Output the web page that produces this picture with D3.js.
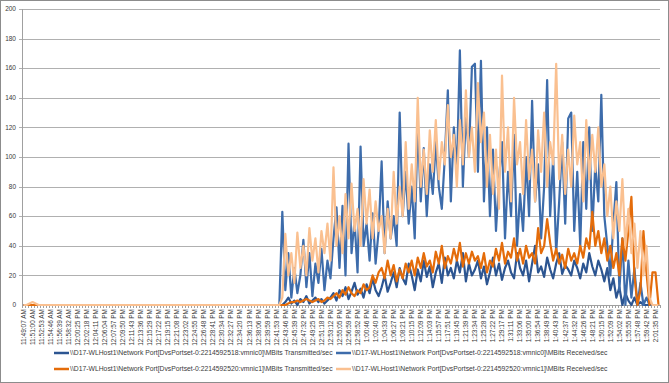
<!DOCTYPE html>
<html>
<head>
<meta charset="utf-8">
<script src="https://cdn.jsdelivr.net/npm/d3@7"></script>
<style>
  body { margin: 0; background: #fff; }
  text { font-family: "Liberation Sans", Arial, sans-serif; fill: #3a3a3a; }
</style>
</head>
<body>
<svg id="chart" width="669" height="383"></svg>
<script>
// tick labels (one label every 3 samples)
const timeLabels = [
  "11:49:07 AM","11:51:00 AM","11:52:53 AM","11:54:46 AM","11:56:39 AM","11:58:32 AM",
  "12:00:25 PM","12:02:18 PM","12:04:11 PM","12:06:04 PM","12:07:57 PM","12:09:50 PM",
  "12:11:43 PM","12:13:36 PM","12:15:29 PM","12:17:22 PM","12:19:15 PM","12:21:08 PM",
  "12:23:02 PM","12:24:55 PM","12:26:48 PM","12:28:41 PM","12:30:34 PM","12:32:27 PM",
  "12:34:20 PM","12:36:13 PM","12:38:06 PM","12:39:59 PM","12:41:53 PM","12:43:46 PM",
  "12:45:39 PM","12:47:32 PM","12:49:25 PM","12:51:18 PM","12:53:12 PM","12:55:05 PM",
  "12:56:59 PM","12:58:52 PM","1:00:46 PM","1:02:40 PM","1:04:33 PM","1:06:27 PM",
  "1:08:21 PM","1:10:15 PM","1:12:09 PM","1:14:03 PM","1:15:57 PM","1:17:51 PM",
  "1:19:45 PM","1:21:39 PM","1:23:34 PM","1:25:28 PM","1:27:22 PM","1:29:17 PM",
  "1:31:11 PM","1:33:06 PM","1:35:00 PM","1:36:54 PM","1:38:49 PM","1:40:43 PM",
  "1:42:37 PM","1:44:32 PM","1:46:26 PM","1:48:21 PM","1:50:15 PM","1:52:09 PM",
  "1:54:02 PM","1:55:55 PM","1:57:48 PM","1:59:42 PM","2:01:35 PM"
];
const samplesPerLabel = 3;
const yTicks = [0, 20, 40, 60, 80, 100, 120, 140, 160, 180, 200];

const seriesNames = [
  "\\\\D17-WLHost1\\Network Port[DvsPortset-0:2214592518:vmnic0]\\MBits Transmitted/sec",
  "\\\\D17-WLHost1\\Network Port[DvsPortset-0:2214592518:vmnic0]\\MBits Received/sec",
  "\\\\D17-WLHost1\\Network Port[DvsPortset-0:2214592520:vmnic1]\\MBits Transmitted/sec",
  "\\\\D17-WLHost1\\Network Port[DvsPortset-0:2214592520:vmnic1]\\MBits Received/sec"
];

const txVmnic0 = [
  0,0,0,0,0,0,0,0,0,0,0,0,0,0,0,0,0,0,0,0,0,0,0,0,0,0,0,0,0,0,0,0,0,0,0,0,0,0,0,0,0,0,0,
  0,0,0,0,0,0,0,0,0,0,0,0,0,0,0,0,0,0,0,0,0,0,0,0,0,0,0,0,0,0,0,0,0,0,0,0,0,0,0,0,0,0,0,
  0,2,5,1,3,0,4,2,6,1,3,5,2,4,1,3,
  5,8,3,10,6,12,4,9,15,7,11,5,14,8,18,10,6,12,20,9,
  15,22,12,25,18,14,28,20,10,24,16,30,19,26,12,22,28,15,32,20,
  25,18,30,22,35,16,28,20,24,30,18,26,14,22,32,20,28,17,25,30,
  22,18,35,25,20,30,16,28,40,22,26,19,32,24,18,28,35,21,27,24,
  20,30,25,18,28,22,35,26,20,30,24,16,25,10,18,5,12,0,8,3,
  0,5,0,2,0,0,0,0,0,0
];
const rxVmnic0 = [
  0,0,0,0,0,0,0,0,0,0,0,0,0,0,0,0,0,0,0,0,0,0,0,0,0,0,0,0,0,0,0,0,0,0,0,0,0,0,0,0,0,0,0,
  0,0,0,0,0,0,0,0,0,0,0,0,0,0,0,0,0,0,0,0,0,0,0,0,0,0,0,0,0,0,0,0,0,0,0,0,0,0,0,0,0,0,0,
  63,10,35,5,25,8,20,44,12,35,6,28,15,38,10,30,
  18,45,66,25,67,20,109,35,57,22,107,40,55,30,62,28,50,97,35,70,
  45,60,40,130,60,90,55,80,45,124,70,106,60,95,75,110,80,65,100,145,
  70,120,90,172,80,130,100,161,163,90,165,70,120,60,105,50,85,110,45,90,
  60,115,40,75,50,100,60,138,70,95,45,80,152,60,100,35,70,110,55,126,
  130,50,90,40,110,65,120,50,95,70,142,60,40,20,55,83,10,45,0,30,
  5,25,0,15,0,5,0,0,0,0
];
const txVmnic1 = [
  0,0,0,0,0,0,0,0,0,0,0,0,0,0,0,0,0,0,0,0,0,0,0,0,0,0,0,0,0,0,0,0,0,0,0,0,0,0,0,0,0,0,0,
  0,0,0,0,0,0,0,0,0,0,0,0,0,0,0,0,0,0,0,0,0,0,0,0,0,0,0,0,0,0,0,0,0,0,0,0,0,0,0,0,0,0,0,
  0,0,1,2,2,3,2,3,4,3,2,3,4,2,3,5,
  4,6,8,5,10,7,12,8,6,10,8,14,10,12,20,15,22,25,18,30,
  20,27,16,24,18,28,22,30,20,32,25,35,26,30,22,36,28,40,25,33,
  28,38,30,42,26,35,28,36,30,33,25,35,22,30,26,38,30,42,28,36,
  32,45,30,38,28,40,32,35,28,52,35,40,58,42,30,38,28,34,25,38,
  30,35,28,40,32,45,38,63,40,50,35,45,30,40,25,35,20,45,30,50,
  73,20,0,10,50,22,0,22,22,0
];
const rxVmnic1 = [
  0,0,1,2,1,0,0,0,0,0,0,0,0,0,0,0,0,0,0,0,0,0,0,0,0,0,0,0,0,0,0,0,0,0,0,0,0,0,0,0,0,0,0,
  0,0,0,0,0,0,0,0,0,0,0,0,0,0,0,0,0,0,0,0,0,0,0,0,0,0,0,0,0,0,0,0,0,0,0,0,0,0,0,0,0,0,0,
  5,48,20,35,15,49,25,40,20,52,30,45,22,50,35,55,
  30,93,40,60,35,75,45,82,50,65,40,85,55,78,45,70,50,60,35,65,
  45,90,55,80,60,110,65,95,70,140,80,105,75,118,90,125,85,110,95,135,
  100,115,80,125,95,145,100,120,90,150,110,130,80,115,75,105,65,155,90,120,
  70,140,95,110,75,125,85,105,70,118,90,130,80,110,95,163,85,115,75,105,
  80,128,95,110,70,125,85,115,90,120,80,95,60,80,45,70,50,85,40,65,
  35,55,25,50,20,40,5,0,0,0
];

const seriesValues = [txVmnic0, rxVmnic0, txVmnic1, rxVmnic1];
const seriesColors = ["#2c5591", "#3d6cab", "#e46c0a", "#fac090"];

const svg = d3.select("#chart");
const W = 669, H = 383;
const plot = { left: 22, right: 660, top: 9, bottom: 305 };
const n = rxVmnic0.length;

// chart frame
svg.append("rect")
  .attr("x", 0.5).attr("y", 0.5)
  .attr("width", W - 1).attr("height", H - 1)
  .attr("fill", "#fff").attr("stroke", "#8c8c8c");

const x = d3.scalePoint()
  .domain(d3.range(n))
  .range([plot.left, plot.right])
  .padding(0.5);
const y = d3.scaleLinear().domain([0, 200]).range([plot.bottom, plot.top]);

// gridlines + y labels
svg.append("g").attr("id", "grid")
  .selectAll("line")
  .data(yTicks.filter(d => d > 0))
  .join("line")
  .attr("x1", plot.left - 3).attr("x2", plot.right)
  .attr("y1", d => Math.round(y(d)) + 0.5).attr("y2", d => Math.round(y(d)) + 0.5)
  .attr("stroke", "#b0b0b0").attr("stroke-width", 1);

svg.append("g").selectAll("text")
  .data(yTicks)
  .join("text")
  .attr("x", 16).attr("y", d => y(d) + 2.2)
  .attr("text-anchor", "end")
  .attr("font-size", 6.5)
  .text(d => d);

// y axis
svg.append("line")
  .attr("x1", plot.left + 0.5).attr("x2", plot.left + 0.5)
  .attr("y1", plot.top).attr("y2", plot.bottom)
  .attr("stroke", "#a0a0a0");

// x axis with a tick per sample
const xAxis = svg.append("g").attr("id", "xaxis");
xAxis.append("line")
  .attr("x1", plot.left).attr("x2", plot.right)
  .attr("y1", plot.bottom + 0.5).attr("y2", plot.bottom + 0.5)
  .attr("stroke", "#a0a0a0");
xAxis.selectAll("line.tick")
  .data(d3.range(n + 1))
  .join("line")
  .attr("class", "tick")
  .attr("x1", i => Math.round(plot.left + i * x.step()) + 0.5)
  .attr("x2", i => Math.round(plot.left + i * x.step()) + 0.5)
  .attr("y1", plot.bottom).attr("y2", plot.bottom + 3)
  .attr("stroke", "#a0a0a0");

xAxis.selectAll("text")
  .data(timeLabels)
  .join("text")
  .attr("transform", (d, i) => `translate(${x(i * samplesPerLabel) + 2.3},${plot.bottom + 4}) rotate(-90)`)
  .attr("text-anchor", "end")
  .attr("font-size", 6.5)
  .text(d => d);

// series lines
const line = d3.line()
  .x((d, i) => x(i))
  .y(d => y(d));

svg.append("g").attr("id", "series")
  .selectAll("path")
  .data(seriesValues)
  .join("path")
  .attr("d", d => line(d))
  .attr("fill", "none")
  .attr("stroke", (d, i) => seriesColors[i])
  .attr("stroke-width", 2.2)
  .attr("stroke-linejoin", "round");

// legend (2 rows x 2 cols)
const legendPos = [[54, 353], [336, 353], [54, 369], [336, 369]];
const legend = svg.append("g").attr("id", "legend");
seriesNames.forEach((name, i) => {
  const [lx, ly] = legendPos[i];
  legend.append("line")
    .attr("x1", lx).attr("x2", lx + 15)
    .attr("y1", ly).attr("y2", ly)
    .attr("stroke", seriesColors[i]).attr("stroke-width", 2.5);
  legend.append("text")
    .attr("x", lx + 16).attr("y", ly + 2.4)
    .attr("font-size", 6.8)
    .text(name);
});
</script>
</body>
</html>
